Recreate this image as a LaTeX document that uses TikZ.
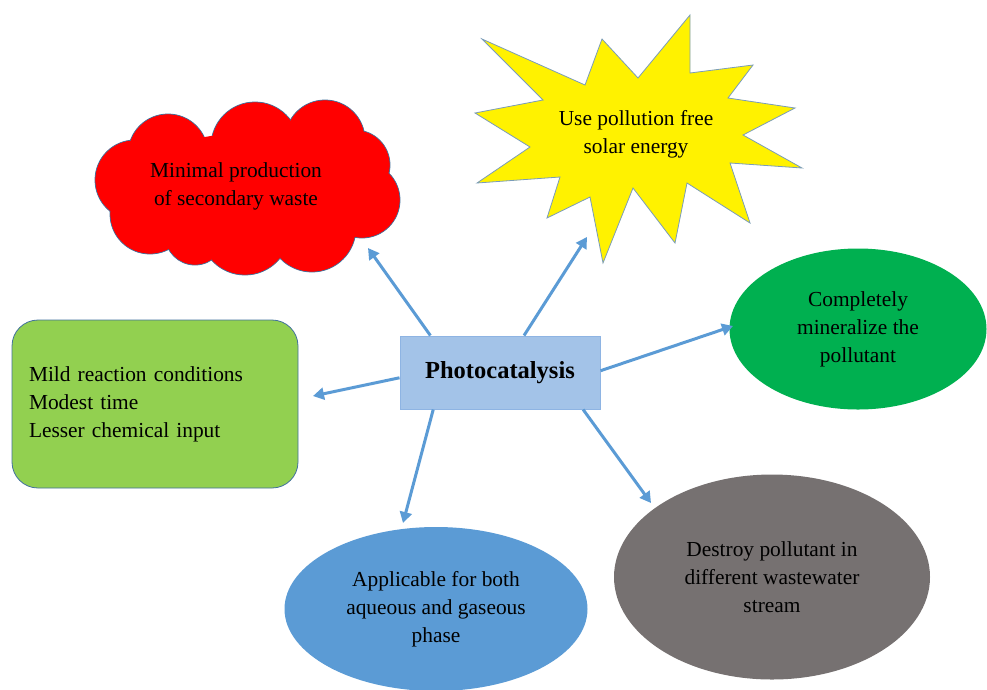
\documentclass[tikz,border=0pt]{standalone}
\usepackage{fontspec}
\setmainfont{Liberation Serif}
\usetikzlibrary{shapes.geometric,arrows.meta}

\definecolor{arrowblue}{HTML}{5B9BD5}
\definecolor{edgeblue}{HTML}{41719C}
\definecolor{boxfill}{HTML}{A3C3E8}
\definecolor{boxedge}{HTML}{8EB4E3}
\definecolor{leafgreen}{HTML}{92D050}
\definecolor{deepgreen}{HTML}{00B050}
\definecolor{skyblue}{HTML}{5B9BD5}
\definecolor{stonegray}{HTML}{767171}

\tikzset{
  txt/.style={font=\fontsize{21.4}{28}\selectfont, text=black, align=center},
  outline/.style={draw=edgeblue, line width=0.8pt},
  link/.style={draw=arrowblue, line width=3pt, -{Triangle[length=11pt,width=12pt]}},
}

% puffs of the cloud: centre x, centre y, radius
\newcommand{\cloudpuffs}{%
  135/180/40, 150/214/40, 168/154/40, 195/235/30, 255/146/44, 325/140/40,
  355/165/35, 362/200/38, 312/228/44, 245/230/45}

\begin{document}
\begin{tikzpicture}[x=1pt,y=-1pt]
\useasboundingbox (0,0) rectangle (987,689);

% central topic
\node[rectangle, fill=boxfill, draw=boxedge, line width=1pt,
      minimum width=200pt, minimum height=73pt,
      font=\fontsize{24.5}{28}\selectfont\bfseries] (pc) at (500,372.5) {Photocatalysis};

% red cloud: outlined puffs, then filled again to hide the inner seams
\foreach \cx/\cy/\r in \cloudpuffs
  \draw[outline, fill=red] (\cx,\cy) circle[radius=\r];
\foreach \cx/\cy/\r in \cloudpuffs
  \fill[red] (\cx,\cy) circle[radius=\r-0.6];
\fill[red] (250,188) ellipse[x radius=120, y radius=55];
\node[txt] (clt) at (236,186) {Minimal production\\of secondary waste};

% yellow burst
\draw[fill=yellow, draw=edgeblue!70, line width=0.8pt]
  (690,15) -- (690,73) -- (753,65) -- (728,98) -- (795,108) -- (743,135)
  -- (802,168) -- (730,163) -- (750,223) -- (687,183) -- (675,243)
  -- (633,188) -- (603,263) -- (590,197) -- (547,218) -- (560,177)
  -- (477,183) -- (530,147) -- (475,113) -- (543,100) -- (482,39)
  -- (585,85) -- (602,39) -- (638,78) -- cycle;
\node[txt] (sun) at (636,134) {Use pollution free\\solar energy};

% green ellipse
\node[ellipse, fill=deepgreen, minimum width=257pt, minimum height=161pt,
      inner sep=0pt, txt] (mn) at (858,329) {Completely\\mineralize the\\pollutant};

% rounded green box
\node[rectangle, rounded corners=26pt, fill=leafgreen, outline,
      minimum width=286pt, minimum height=168pt, inner sep=0pt,
      txt, align=left, text width=252pt] (mc) at (155,404)
      {Mild reaction conditions\\Modest time\\Lesser chemical input};

% blue ellipse
\node[ellipse, fill=skyblue, minimum width=303pt, minimum height=164pt,
      inner sep=0pt, txt] (ph) at (436,609)
      {Applicable for both\\aqueous and gaseous\\phase};

% gray ellipse
\node[ellipse, fill=stonegray, minimum width=316pt, minimum height=205pt,
      inner sep=0pt, txt] (ww) at (772,577)
      {Destroy pollutant in\\different wastewater\\stream};

% arrow heads
\coordinate (tcl) at (368,248);
\coordinate (tsun) at (587,237);
\coordinate (tmn) at (733,326);
\coordinate (tmc) at (313,396);
\coordinate (tph) at (403,523);
\coordinate (tww) at (651,503);

\draw[link] (pc.152.5) -- (tcl);
\draw[link] (pc.57.8) -- (tsun);
\draw[link] (pc.1.4) -- (tmn);
\draw[link] (pc.183) -- (tmc);
\draw[link] (pc.209.7) -- (tph);
\draw[link] (pc.336.5) -- (tww);
\end{tikzpicture}
\end{document}
